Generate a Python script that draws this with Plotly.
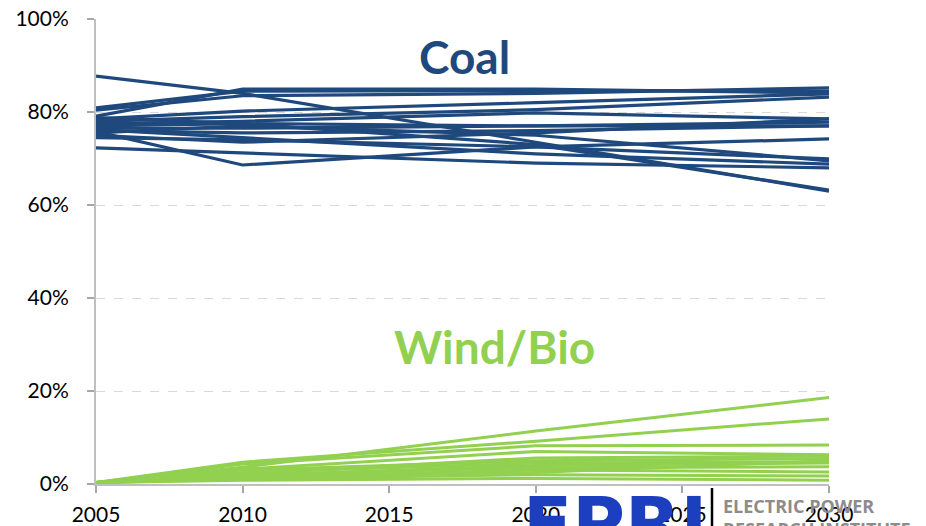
import plotly.graph_objects as go

years = [2005, 2010, 2020, 2030]

coal_series = [
    [87.7, 84.0, 73.5, 63.0],
    [80.9, 84.5, 84.6, 84.5],
    [80.4, 83.5, 84.0, 85.2],
    [79.1, 84.9, 84.9, 84.1],
    [78.5, 80.2, 82.0, 83.9],
    [78.0, 79.0, 80.5, 83.2],
    [77.5, 78.0, 79.8, 78.5],
    [77.0, 77.5, 77.0, 77.8],
    [76.5, 76.5, 77.0, 77.0],
    [76.0, 75.5, 76.0, 77.0],
    [75.5, 77.0, 75.0, 69.5],
    [75.0, 73.5, 75.5, 78.5],
    [74.5, 74.0, 72.5, 69.9],
    [76.2, 74.5, 71.0, 68.8],
    [72.3, 71.2, 69.0, 68.0],
    [75.8, 68.6, 72.5, 74.2],
    [78.8, 77.5, 73.0, 63.2],
]

wind_series = [
    [0.3, 3.6, 11.4, 18.6],
    [0.3, 4.7, 9.2, 14.0],
    [0.3, 4.3, 8.2, 8.4],
    [0.3, 3.2, 7.0, 6.3],
    [0.3, 2.2, 5.6, 6.0],
    [0.3, 3.0, 5.0, 5.5],
    [0.3, 2.5, 4.5, 4.8],
    [0.3, 1.8, 4.0, 4.5],
    [0.3, 2.0, 3.5, 3.7],
    [0.3, 1.5, 3.0, 2.6],
    [0.3, 1.1, 2.0, 1.7],
    [0.3, 0.8, 1.2, 0.8],
    [0.3, 1.2, 2.5, 5.0],
]

x_ticks = [2005, 2010, 2015, 2020, 2025, 2030]
y_ticks = [0, 0.2, 0.4, 0.6, 0.8, 1.0]
y_tick_labels = ["0%", "20%", "40%", "60%", "80%", "100%"]

COAL = "#1F497D"
WIND = "#92D050"

# page offset of the figure inside the browser window
OFF = 7
W, H = 926 - OFF, 526 - OFF
L, R, T, B = 95 - OFF, 98, 18 - OFF, 43
PW, PH = W - L - R, H - T - B


def px_x(px):
    return (px - OFF - L) / PW


def px_y(py):
    return (H - B - (py - OFF)) / PH


fig = go.Figure()
for s in wind_series:
    fig.add_trace(go.Scatter(x=years, y=[v / 100 for v in s], mode="lines",
                             line=dict(color=WIND, width=3), showlegend=False,
                             hoverinfo="skip"))
for s in coal_series:
    fig.add_trace(go.Scatter(x=years, y=[v / 100 for v in s], mode="lines",
                             line=dict(color=COAL, width=3.2), showlegend=False,
                             hoverinfo="skip"))

tickfont = dict(family="Lato, 'Open Sans', sans-serif", size=21, color="#000000")

fig.update_layout(
    width=W, height=H,
    margin=dict(l=L, r=R, t=T, b=B, autoexpand=False),
    paper_bgcolor="white", plot_bgcolor="white",
    xaxis=dict(range=[2005, 2030], tickvals=x_ticks, ticktext=[str(t) for t in x_ticks],
               showgrid=False, zeroline=False, showline=True, linecolor="#BFBFBF",
               linewidth=1.5, ticks="outside", ticklen=7, tickcolor="#A6A6A6",
               tickwidth=1.5, tickfont=tickfont, ticklabelstandoff=4, automargin=False,
               ticklabeloverflow="allow"),
    yaxis=dict(range=[0, 1], tickvals=y_ticks, ticktext=y_tick_labels,
               showgrid=True, gridcolor="#D9D9D9", griddash="dash", gridwidth=1,
               zeroline=False, showline=True, linecolor="#BFBFBF", linewidth=2,
               ticks="outside", ticklen=7, tickcolor="#A6A6A6", tickwidth=1.5,
               tickfont=tickfont, ticklabelstandoff=14, automargin=False,
               ticklabeloverflow="allow"),
)

fig.add_annotation(x=px_x(463), y=px_y(55), xref="paper", yref="paper", text="<b>Coal</b>",
                   xanchor="center", yanchor="middle", showarrow=False,
                   font=dict(family="Lato, 'Open Sans', sans-serif", size=46, color=COAL))
fig.add_annotation(x=px_x(493), y=px_y(345), xref="paper", yref="paper",
                   text="<b>Wind/Bio</b>", xanchor="center", yanchor="middle",
                   showarrow=False,
                   font=dict(family="Lato, 'Open Sans', sans-serif", size=46, color=WIND))

# EPRI logo (partially cut off at the bottom edge)
fig.add_annotation(x=px_x(520), y=px_y(478), xref="paper", yref="paper",
                   xanchor="left", yanchor="top", showarrow=False, text="<b>EPRI</b>",
                   font=dict(family="'DejaVu Sans', sans-serif", size=72, color="#1C3FC0"))
fig.add_shape(type="line", xref="paper", yref="paper",
              x0=px_x(711), x1=px_x(711), y0=px_y(487), y1=px_y(540),
              line=dict(color="#000000", width=2.5))
fig.add_annotation(xref="paper", yref="paper", x=px_x(720), y=px_y(491),
                   xanchor="left", yanchor="top", showarrow=False, align="left",
                   text="<b>ELECTRIC POWER<br>RESEARCH INSTITUTE</b>",
                   font=dict(family="'Open Sans', sans-serif", size=18, color="#8C8C8C"))

fig.write_html("out.html")
